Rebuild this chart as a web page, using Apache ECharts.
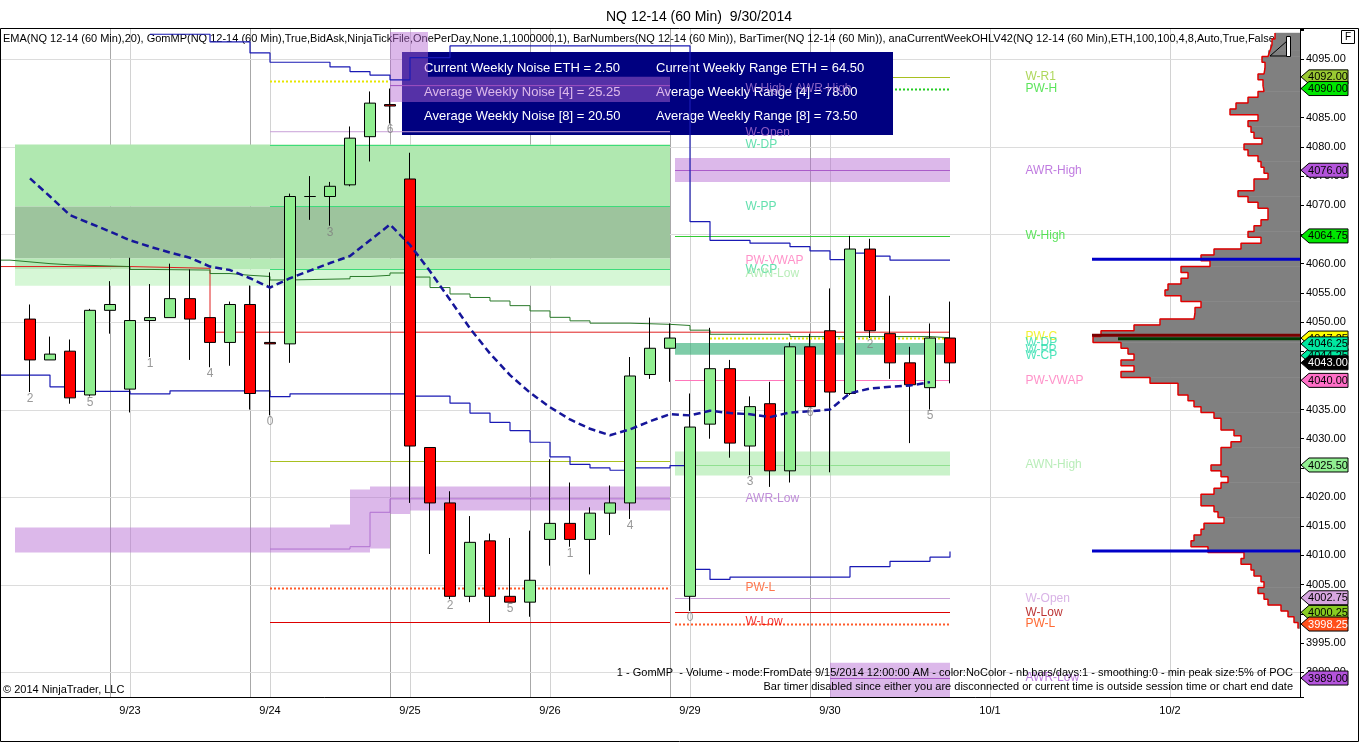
<!DOCTYPE html>
<html>
<head>
<meta charset="utf-8">
<script src="https://cdn.jsdelivr.net/npm/echarts@6/dist/echarts.min.js"></script>
<style>
html, body { margin: 0; padding: 0; background: #fff; }
#chart { width: 1360px; height: 743px; }
</style>
</head>
<body>
<div id="chart"></div>
<script>
//K线: [开, 收, 低, 高], 第一根在类目 1
var ohlc = [
    [4050.5, 4043.5, 4038, 4053], [4043.5, 4044.5, 4043.5, 4047.5], [4045, 4037, 4036, 4047],
    [4037.5, 4052, 4037.25, 4052.25], [4052, 4053, 4048, 4057], [4038.5, 4050.25, 4034.5, 4061],
    [4050.25, 4050.75, 4044, 4056.5], [4050.75, 4054, 4050.75, 4060], [4054, 4050.5, 4043.5, 4059],
    [4050.75, 4046.5, 4042.25, 4050.75], [4046.5, 4053, 4042.5, 4053.5], [4053, 4037.75, 4035, 4056.25],
    [4046.5, 4046.25, 4034, 4058.5], [4046.25, 4071.5, 4043, 4072], [4071.5, 4071.5, 4067.5, 4075],
    [4071.5, 4073.25, 4066.5, 4074], [4073.5, 4081.5, 4073.25, 4083.5], [4081.75, 4087.5, 4077.5, 4089.5],
    [4087.25, 4087, 4084, 4090], [4074.5, 4028.75, 4019, 4079], [4028.5, 4019, 4010.25, 4028.5],
    [4019, 4003, 4002.5, 4021], [4003, 4012.25, 4002, 4016.75], [4012.5, 4003, 3998.5, 4013.75],
    [4003, 4002, 4002, 4013], [4002, 4005.75, 3999.5, 4014.25], [4012.75, 4015.5, 4008.25, 4026.5],
    [4015.5, 4012.75, 4011.5, 4022.5], [4012.75, 4017.25, 4006.75, 4018.25], [4017.25, 4019, 4013.5, 4022],
    [4019, 4040.75, 4016.25, 4044], [4041, 4045.5, 4040.25, 4050.75], [4045.5, 4047.25, 4039.75, 4049.75],
    [4003, 4032, 4000.5, 4037.75], [4032.5, 4042, 4030, 4049], [4042, 4029.25, 4026.75, 4043.5],
    [4028.75, 4035.5, 4023.75, 4037.25], [4036, 4024.5, 4021.75, 4039.75], [4024.5, 4045.75, 4022.5, 4046.5],
    [4045.75, 4035.5, 4035.5, 4048], [4048.5, 4038, 4024.25, 4055.75], [4037.75, 4062.5, 4037.5, 4064.75],
    [4062.5, 4048.5, 4047.25, 4064.25], [4048, 4043, 4040.25, 4054.5], [4043, 4039.25, 4029.25, 4045.75],
    [4038.75, 4047.25, 4035, 4049.75], [4047.25, 4043, 4039.5, 4053.5]
];

//EMA(20), 第 1 到 46 根
var ema20 = [
    4074.6, 4071.5, 4068.3, 4066.9, 4065.5, 4064.0, 4062.9, 4061.9, 4061.0, 4059.5,
    4058.9, 4057.5, 4055.9, 4057.5, 4058.8, 4060.1, 4061.3, 4064.0, 4066.7, 4063.2,
    4058.7, 4053.8, 4048.9, 4044.6, 4040.9, 4037.9, 4035.4, 4033.3, 4031.7, 4030.6,
    4031.6, 4033.0, 4034.2, 4034.0, 4034.8, 4034.4, 4034.2, 4033.7, 4034.5, 4034.7,
    4035.0, 4037.8, 4038.6, 4038.9, 4039.1, 4039.7
];

//BarNumbers
var barNumBars = [1, 4, 7, 10, 13, 16, 19, 22, 25, 28, 31, 34, 37, 40, 43, 46];
var barNumText = ['2', '5', '1', '4', '0', '3', '6', '2', '5', '1', '4', '0', '3', '6', '2', '5'];

//日期刻度
var dateTickIdx  = [6, 13, 20, 27, 34, 41, 49, 58];
var dateTickText = ['9/23', '9/24', '9/25', '9/26', '9/29', '9/30', '10/1', '10/2'];
var sessionIdx   = [5, 12, 19, 26, 33, 40];
var priceGrid    = [3990, 4005, 4020, 4035, 4050, 4065, 4080, 4095];

//阶梯线 [K线位置, 价格]
var upperBand = [[7, 4099.3], [10, 4098.0], [12, 4096.1], [13, 4094.5], [16, 4093.7], [17, 4092.9], [18, 4092.3],
    [19, 4091.5], [20, 4095.3], [22, 4097.3], [34, 4067.2], [35, 4064.0], [37, 4063.5], [39, 4062.9], [40, 4062.2],
    [41, 4060.7], [42, 4061.8], [43, 4061.3], [44, 4060.6], [47, 4060.6]];
var lowerBand = [[-0.5, 4040.9], [2, 4038.9], [3, 4038.1], [6, 4037.7], [8, 4038.2], [13, 4037.2], [14, 4037.7],
    [20, 4037.3], [22, 4036.1], [23, 4034.4], [24, 4032.8], [25, 4031.4], [26, 4029.4], [27, 4026.9], [28, 4025.6],
    [29, 4025.0], [30, 4024.6], [31, 4025.0], [33, 4025.4], [34, 4007.6], [35, 4005.9], [36, 4006.3], [42, 4008.1],
    [44, 4009.0], [46, 4009.7], [47, 4010.7]];
var greenStep = [[-0.5, 4060.6], [0, 4060.3], [1, 4060.0], [2, 4059.8], [3, 4059.5], [6, 4059.0], [7, 4058.9],
    [10, 4058.3], [11, 4058.0], [12, 4057.8], [13, 4057.2], [14, 4057.4], [17, 4057.8], [18, 4058.0], [19, 4058.4],
    [20, 4057.7], [21, 4055.9], [22, 4054.8], [23, 4054.2], [24, 4053.6], [25, 4052.8], [26, 4051.9], [27, 4050.8],
    [28, 4050.2], [29, 4049.8], [31, 4049.6], [33, 4049.4], [34, 4048.6], [35, 4047.9], [39, 4047.5], [46, 4047.3],
    [47, 4047.3]];
var redStep    = [[-0.5, 4059.5], [6, 4059.2], [10, 4048.25], [47, 4048.25]];
var awrLowStep = [[13, 4011.1], [17, 4011.5], [18, 4017.4], [19, 4019.7], [33, 4019.7]];
var awrHighLine = [[19, 4090.5], [33, 4090.5]];
var wOpenLine   = [[13, 4082.6], [33, 4082.6]];

//区域 [起, 止, 低, 高]
var greenZones = [[0.25, 33, 4069.8, 4080.4], [0.25, 33, 4060.9, 4069.8], [0.25, 33, 4059.0, 4060.9], [0.25, 33, 4056.2, 4059.0]];
var greenZoneColor = ['#b0e8b0', '#9dc49d', '#b6eab6', '#d6f7d6'];
var purpleZones = [[0.25, 16, 4010.5, 4014.8], [16, 17, 4010.5, 4015.3], [17, 18, 4010.5, 4021.3], [18, 19, 4011.2, 4021.8],
    [19, 20, 4017.1, 4021.8], [20, 33, 4017.7, 4021.8], [19, 20.9, 4087.7, 4099.7], [20.9, 33, 4087.7, 4092.0],
    [33.25, 47, 4074.0, 4078.1], [41, 47, 3985, 3991.6]];
var weekZones = [[33.25, 47, 4023.7, 4027.8], [33.25, 47, 4044.4, 4046.4]];
var weekZoneColor = ['rgba(150,230,150,0.5)', 'rgba(40,170,110,0.6)'];

//水平价位 [起, 止, 价格]
var levels = [
    [13, 19, 4091.3], [13, 33, 4080.4], [13, 33, 4069.8], [13, 33, 4059.0], [13, 33, 4026.1],
    [13, 33, 4004.5], [13, 33, 3998.6], [33.25, 47, 4092.0], [33.25, 47, 4090.0], [33.25, 47, 4076.0],
    [33.25, 47, 4064.75], [35, 47, 4047.25], [33.25, 47, 4040.0], [33.25, 47, 4025.5], [33.25, 47, 4002.75],
    [33.25, 47, 4000.25], [33.25, 47, 3998.25], [41, 47, 3989.0]
];
var levelStyle = ['yellowDot', 'green', 'green', 'green', 'olive', 'orangeDot', 'red', 'olive', 'greenDot', 'purple',
    'lime', 'yellowDot', 'pink', 'ltgreen', 'plum', 'red', 'orangeDot', 'purple'];

//文字标签 [价格, 文字]
var midLabelPrice = [4090.0, 4082.5, 4080.3, 4069.7, 4060.5, 4059.0, 4058.3, 4019.7, 4004.5, 3998.7];
var midLabelText  = ['W-High / AWR-High', 'W-Open', 'W-DP', 'W-PP', 'PW-VWAP', 'W-CP', 'AWN-Low', 'AWR-Low', 'PW-L', 'W-Low'];
var rightLabelPrice = [4092, 4090, 4076, 4064.75, 4047.5, 4046.4, 4045.3, 4044.3, 4040, 4025.5, 4002.6, 4000.2, 3998.3, 3989];
var rightLabelText  = ['W-R1', 'PW-H', 'AWR-High', 'W-High', 'PW-C', 'W-DP', 'W-PP', 'W-CP', 'PW-VWAP', 'AWN-High', 'W-Open', 'W-Low', 'PW-L', 'AWR-Low'];

//价格标签
var tagPrice = [4092, 4090, 4076, 4064.75, 4047.25, 4044.25, 4046.25, 4043, 4040, 4025.5, 4002.75, 4000.25, 3998.25, 3989];

//成交量分布, 从 4099 起每 1 点
var profileTop = 4099;
var profileVol = [
    25, 28, 30, 32, 38, 35, 36, 42, 37, 36, 42, 52, 64, 70, 42, 52, 49, 46, 38, 56,
    52, 42, 39, 36, 32, 46, 46, 62, 52, 42, 32, 32, 39, 46, 52, 39, 59, 86, 99, 90,
    119, 112, 119, 132, 135, 119, 99, 105, 106, 140, 166, 199, 207, 179, 172, 166, 179, 166, 179, 150,
    122, 122, 112, 106, 99, 86, 79, 79, 66, 59, 69, 79, 79, 79, 89, 79, 72, 79, 86, 99,
    99, 86, 82, 76, 96, 99, 106, 109, 92, 56, 59, 49, 46, 39, 36, 42, 36, 32, 19, 12, 6, 2
];
var profileMarks = [[208, 4060.75], [208, 4010.75], [208, 4047.75], [182, 4047.15]];

var boxLeft  = ['Current Weekly Noise ETH = 2.50', 'Average Weekly Noise [4] = 25.25', 'Average Weekly Noise [8] = 20.50'];
var boxRight = ['Current Weekly Range ETH = 64.50', 'Average Weekly Range [4] = 78.00', 'Average Weekly Range [8] = 73.50'];

//样式
var FONT = 'Liberation Sans, Arial, sans-serif';
var lineStyles = {
    yellowDot : {stroke: '#e6e600', lineWidth: 2, lineDash: [2, 2]},
    green     : {stroke: '#3ddc7a', lineWidth: 1.2},
    olive     : {stroke: '#a8c020', lineWidth: 1},
    orangeDot : {stroke: '#ff5a2a', lineWidth: 2, lineDash: [2, 2]},
    red       : {stroke: '#dd0000', lineWidth: 1},
    greenDot  : {stroke: '#22cc22', lineWidth: 2, lineDash: [2, 2]},
    purple    : {stroke: '#a050c0', lineWidth: 1},
    lime      : {stroke: '#33cc33', lineWidth: 1.2},
    pink      : {stroke: '#ff77bb', lineWidth: 1},
    ltgreen   : {stroke: '#90e090', lineWidth: 1},
    plum      : {stroke: '#c8a0d8', lineWidth: 1}
};
var midLabelColor = ['#a878d0', '#b070d0', '#3cd89a', '#3cd89a', '#ff77bb', '#3cd89a', '#a8e8a8', '#b070d0', '#ff5522', '#ee0000'];
var rightLabelColor = ['#9acd32', '#33dd33', '#b05ad8', '#33dd33', '#eeee00', '#22ddaa', '#22ddaa', '#22ddaa', '#ff77bb',
    '#a8e8a8', '#d0a0e0', '#aa0000', '#ff4500', '#b05ad8'];
var tagFill = ['#99c832', '#00e600', '#b454dc', '#00e600', '#ffff00', '#00e8a0', '#00e8a0', '#000000', '#ff6ec7',
    '#90ee90', '#d7a6e0', '#88cc22', '#ff4f1a', '#b454dc'];
var tagInk = ['#000', '#000', '#000', '#000', '#000', '#000', '#000', '#fff', '#000', '#000', '#000', '#000', '#fff', '#000'];

//类目
var cats = [];
for (var i = 0; i < 65; i++) cats.push('');
dateTickIdx.forEach(function (k, j) { cats[k] = dateTickText[j]; });

var candles = cats.map(function (c, i) {
    return i >= 1 && i <= ohlc.length ? ohlc[i - 1] : '-';
});

//区域矩形
function rectItem(colorOf) {
    return function (params, api) {
        var a = api.coord([api.value(0), api.value(3)]);
        var b = api.coord([api.value(1), api.value(2)]);
        return {type: 'rect', shape: {x: a[0], y: a[1], width: b[0] - a[0], height: b[1] - a[1]},
            style: {fill: colorOf(params.dataIndex)}};
    };
}

var profileOutline = [];
profileVol.forEach(function (v, i) {
    var p = profileTop - i;
    profileOutline.push([v, p + 0.5], [v, p - 0.5]);
});

function txt(x, y, s, opt) {
    opt = opt || {};
    return {type: 'text', z: opt.z || 3, style: {
        x: x, y: y, text: s, fill: opt.fill || '#000', font: (opt.size || 11) + 'px ' + FONT,
        textAlign: opt.align || 'left', align: opt.align || 'left',
        textVerticalAlign: 'middle', verticalAlign: 'middle'
    }};
}

var chart = echarts.init(document.getElementById('chart'));

chart.setOption({
    animation: false,
    title: {
        text: 'NQ 12-14 (60 Min)  9/30/2014', left: 601, top: 5,
        textStyle: {fontSize: 14, fontWeight: 'normal', color: '#000', fontFamily: FONT}
    },
    grid: {left: 0, right: 60, top: 29, bottom: 46, containLabel: false, outerBoundsMode: 'none'},
    xAxis: [{
        type: 'category', data: cats, boundaryGap: true,
        axisLine: {onZero: false, lineStyle: {color: '#000'}},
        axisTick: {alignWithLabel: true, length: 5, lineStyle: {color: '#000'},
            interval: function (i, v) { return v !== ''; }},
        axisLabel: {color: '#000', fontSize: 11, fontFamily: FONT, margin: 8,
            interval: function (i, v) { return v !== ''; }},
        splitLine: {show: false}
    }, {
        type: 'value', min: -0.5, max: 64.5, show: false
    }, {
        type: 'value', min: 0, max: 1300, inverse: true, show: false
    }],
    yAxis: {
        type: 'value', position: 'right', min: 3985.75, max: 4100.2, splitNumber: 22, minInterval: 5, maxInterval: 5,
        axisLine: {show: true, onZero: false, lineStyle: {color: '#000'}},
        axisTick: {show: true, length: 4, lineStyle: {color: '#000'}},
        axisLabel: {color: '#000', fontSize: 11, fontFamily: FONT, margin: 6,
            formatter: function (v) {
                return (Math.abs(v / 5 - Math.round(v / 5)) > 1e-6 || v > 4097) ? '' : v.toFixed(2);
            }},
        splitLine: {show: false}
    },
    graphic: [
        {type: 'rect', z: 20, shape: {x: 0.5, y: 28.5, width: 1358, height: 713}, style: {fill: null, stroke: '#000', lineWidth: 1}},
        txt(3, 39, 'EMA(NQ 12-14 (60 Min),20), GomMP(NQ 12-14 (60 Min),True,BidAsk,NinjaTickFile,OnePerDay,None,1,1000000,1), BarNumbers(NQ 12-14 (60 Min)), BarTimer(NQ 12-14 (60 Min)), anaCurrentWeekOHLV42(NQ 12-14 (60 Min),ETH,100,100,4,8,Auto,True,False,True', {z: 1}),
        {type: 'rect', z: 3, shape: {x: 402, y: 52, width: 491, height: 83}, style: {fill: '#000080'}},
        txt(424, 68, boxLeft[0], {fill: '#fff', size: 13}),
        txt(424, 92, boxLeft[1], {fill: '#fff', size: 13}),
        txt(424, 116, boxLeft[2], {fill: '#fff', size: 13}),
        txt(656, 68, boxRight[0], {fill: '#fff', size: 13}),
        txt(656, 92, boxRight[1], {fill: '#fff', size: 13}),
        txt(656, 116, boxRight[2], {fill: '#fff', size: 13}),
        txt(3, 690, '\u00a9 2014 NinjaTrader, LLC', {z: 12}),
        txt(1293, 673, '1 - GomMP  - Volume - mode:FromDate 9/15/2014 12:00:00 AM - color:NoColor - nb bars/days:1 - smoothing:0 - min peak size:5% of POC', {z: 12, align: 'right'}),
        txt(1293, 687, 'Bar timer disabled since either you are disconnected or current time is outside session time or chart end date', {z: 12, align: 'right'}),
        {type: 'rect', z: 20, shape: {x: 1341.5, y: 30.5, width: 13, height: 13}, style: {fill: '#fff', stroke: '#000'}},
        txt(1348, 37, 'F', {z: 20, size: 10, align: 'center'}),
        {type: 'polygon', z: 20, shape: {points: [[1270, 56], [1287, 41], [1287, 56]]}, style: {fill: null, stroke: '#000'}},
        {type: 'rect', z: 20, shape: {x: 1286.5, y: 36.5, width: 4, height: 20}, style: {fill: '#fff', stroke: '#000'}}
    ],
    series: [
        //网格线
        {
            type: 'custom', xAxisIndex: 1, z: 0, silent: true, clip: true,
            data: sessionIdx.map(function (k) { return [k, 1]; }).concat(dateTickIdx.map(function (k) { return [k, 0]; })),
            renderItem: function (params, api) {
                var a = api.coord([api.value(0), 4100.2]), b = api.coord([api.value(0), 3985.75]);
                var x = Math.round(a[0]) + 0.5;
                return {type: 'line', shape: {x1: x, y1: a[1], x2: x, y2: b[1]},
                    style: {stroke: api.value(1) ? '#a8a8a8' : '#d2d2d2', lineWidth: 1}};
            }
        },
        {
            type: 'custom', xAxisIndex: 1, z: 0, silent: true, clip: true,
            data: priceGrid.map(function (p) { return [0, p]; }),
            renderItem: function (params, api) {
                var a = api.coord([-0.5, api.value(1)]), b = api.coord([64.5, api.value(1)]);
                var y = Math.round(a[1]) + 0.5;
                return {type: 'line', shape: {x1: a[0], y1: y, x2: b[0], y2: y}, style: {stroke: '#dcdcdc', lineWidth: 1}};
            }
        },
        //区域
        {
            type: 'custom', xAxisIndex: 1, z: 1, silent: true, clip: true, data: greenZones,
            renderItem: rectItem(function (i) { return greenZoneColor[i]; })
        },
        {
            type: 'custom', xAxisIndex: 1, z: 1, silent: true, clip: true, data: weekZones,
            renderItem: rectItem(function (i) { return weekZoneColor[i]; })
        },
        //价位线
        {
            type: 'custom', xAxisIndex: 1, z: 2, silent: true, clip: true, data: levels,
            renderItem: function (params, api) {
                var a = api.coord([api.value(0), api.value(2)]), b = api.coord([api.value(1), api.value(2)]);
                var y = Math.round(a[1]) + 0.5;
                return {type: 'line', shape: {x1: a[0], y1: y, x2: b[0], y2: y},
                    style: lineStyles[levelStyle[params.dataIndex]]};
            }
        },
        //紫色区域 (覆盖在信息框上)
        {
            type: 'custom', xAxisIndex: 1, z: 4, silent: true, clip: true, data: purpleZones,
            renderItem: rectItem(function () { return 'rgba(180,105,210,0.47)'; })
        },
        {type: 'line', xAxisIndex: 1, z: 4, data: wOpenLine, symbol: 'none', lineStyle: {color: '#c8a0d8', width: 1}},
        {type: 'line', xAxisIndex: 1, z: 4, data: awrHighLine, symbol: 'none', lineStyle: {color: '#a050c0', width: 1}},
        {type: 'line', xAxisIndex: 1, z: 4, data: awrLowStep, step: 'end', symbol: 'none', lineStyle: {color: '#b070d0', width: 1}},
        //阶梯线
        {type: 'line', xAxisIndex: 1, z: 4, data: redStep, step: 'end', symbol: 'none', lineStyle: {color: '#e02020', width: 1}},
        {type: 'line', xAxisIndex: 1, z: 4, data: greenStep, step: 'end', symbol: 'none', lineStyle: {color: '#2a7a2a', width: 1}},
        {type: 'line', xAxisIndex: 1, z: 4, data: upperBand, step: 'end', symbol: 'none', lineStyle: {color: '#1a1ab4', width: 1.2}},
        {type: 'line', xAxisIndex: 1, z: 4, data: lowerBand, step: 'end', symbol: 'none', lineStyle: {color: '#1a1ab4', width: 1.2}},
        //K线
        {
            type: 'candlestick', xAxisIndex: 0, z: 5, data: candles, barWidth: 12,
            itemStyle: {color: '#90ee90', color0: '#ff0000', borderColor: '#000', borderColor0: '#000', borderWidth: 1}
        },
        //EMA
        {
            type: 'line', xAxisIndex: 1, z: 6, symbol: 'none', smooth: false,
            data: ema20.map(function (v, i) { return [i + 1, v]; }),
            lineStyle: {color: '#16169a', width: 2.5, type: [7, 4]}
        },
        //BarNumbers
        {
            type: 'scatter', xAxisIndex: 1, z: 6, silent: true, symbolSize: 1, itemStyle: {color: 'rgba(0,0,0,0)'},
            data: barNumBars.map(function (b, j) {
                return {value: [b, ohlc[b - 1][2]], label: {formatter: barNumText[j]}};
            }),
            label: {show: true, position: 'bottom', distance: 0, color: '#808080', fontSize: 12, fontFamily: FONT}
        },
        //文字标签
        {
            type: 'scatter', xAxisIndex: 1, z: 7, silent: true, symbolSize: 1, itemStyle: {color: 'rgba(0,0,0,0)'},
            data: midLabelPrice.map(function (p, j) {
                return {value: [36.75, p], label: {formatter: midLabelText[j], color: midLabelColor[j]}};
            }).concat(rightLabelPrice.map(function (p, j) {
                return {value: [50.75, p], label: {formatter: rightLabelText[j], color: rightLabelColor[j]}};
            })),
            label: {show: true, position: 'right', distance: 0, fontSize: 12, fontFamily: FONT}
        },
        //成交量分布
        {
            type: 'custom', xAxisIndex: 2, z: 8, silent: true, clip: true,
            data: profileVol.map(function (v, i) { return [v, profileTop - i]; }),
            renderItem: function (params, api) {
                var a = api.coord([api.value(0), api.value(1) + 0.5]), b = api.coord([0, api.value(1) - 0.5]);
                return {type: 'rect', shape: {x: a[0], y: a[1] - 0.3, width: b[0] - a[0], height: b[1] - a[1] + 0.6},
                    style: {fill: '#808080'}};
            }
        },
        {type: 'line', xAxisIndex: 2, z: 8, data: profileOutline, symbol: 'none', lineStyle: {color: '#e00000', width: 1.5}},
        {
            type: 'custom', xAxisIndex: 2, z: 9, silent: true, clip: true, data: profileMarks,
            renderItem: function (params, api) {
                var a = api.coord([api.value(0), api.value(1)]), b = api.coord([0, api.value(1)]);
                var c = ['#0000c8', '#0000c8', '#7a0000', '#003a00'][params.dataIndex];
                return {type: 'line', shape: {x1: a[0], y1: a[1], x2: b[0], y2: b[1]}, style: {stroke: c, lineWidth: 3}};
            }
        },
        //右侧价格标签
        {
            type: 'custom', xAxisIndex: 1, z: 10, silent: true, clip: false,
            data: tagPrice.map(function (p) { return [64.5, p]; }),
            renderItem: function (params, api) {
                var pt = api.coord([api.value(0), api.value(1)]);
                var x = pt[0] + 1, y = pt[1], j = params.dataIndex;
                return {type: 'group', children: [
                    {type: 'polygon', shape: {points: [[x, y], [x + 8, y - 7], [x + 47, y - 7], [x + 47, y + 7], [x + 8, y + 7]]},
                        style: {fill: tagFill[j], stroke: '#000', lineWidth: 1}},
                    {type: 'text', style: {x: x + 27, y: y + 0.5, text: tagPrice[j].toFixed(2), fill: tagInk[j], font: '11px ' + FONT,
                        textAlign: 'center', align: 'center', textVerticalAlign: 'middle', verticalAlign: 'middle'}}
                ]};
            }
        }
    ]
});
</script>
</body>
</html>
